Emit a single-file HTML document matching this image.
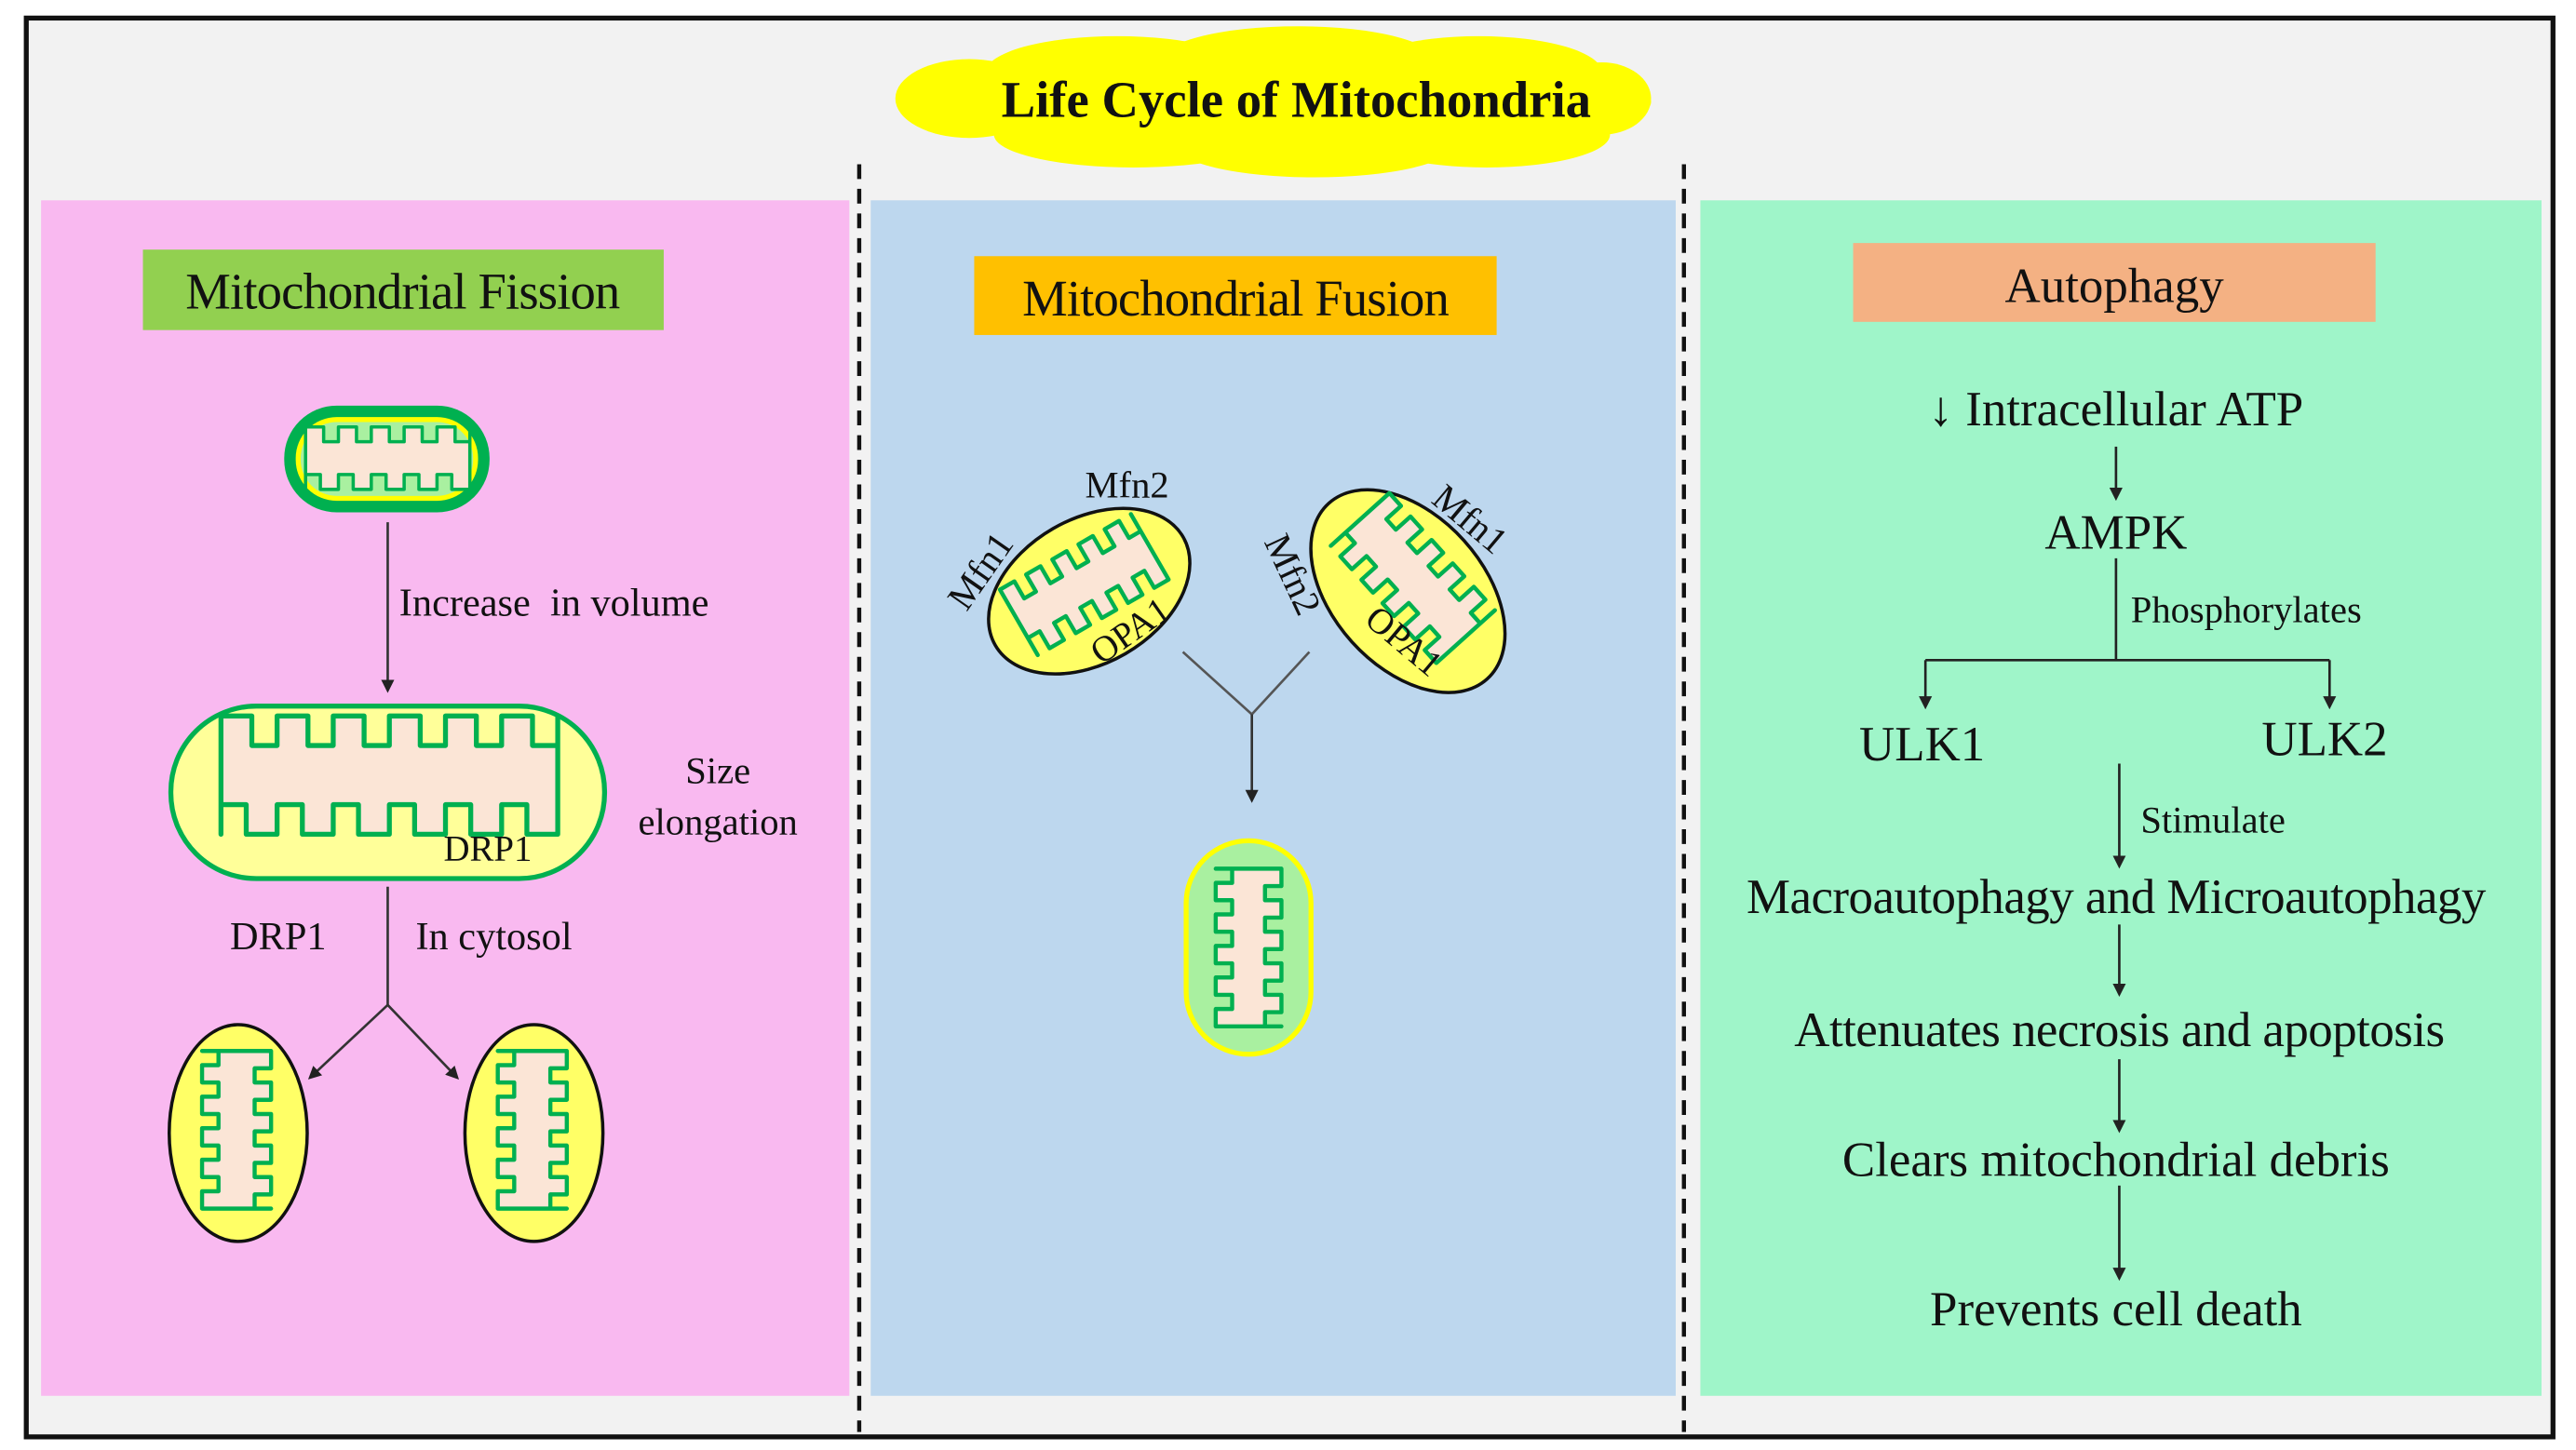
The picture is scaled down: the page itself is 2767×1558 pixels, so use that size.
<!DOCTYPE html>
<html><head><meta charset="utf-8"><style>
html,body{margin:0;padding:0;background:#fff;}
svg{display:block;}
text{font-family:"Liberation Serif",serif;fill:#111;}
</style></head><body>
<svg id="s" width="2767" height="1558" viewBox="0 0 1568 883" preserveAspectRatio="none" xmlns="http://www.w3.org/2000/svg">
<defs>
<marker id="ah" markerWidth="8" markerHeight="8" refX="6" refY="4" orient="auto" markerUnits="userSpaceOnUse"><path d="M0,0 L8,4 L0,8 z" fill="#222"/></marker>
</defs>
<rect x="0" y="0" width="1568" height="883" fill="#fff"/>
<rect x="16" y="11" width="1538" height="864" fill="#f2f2f2" stroke="#111" stroke-width="3"/>
<rect x="25" y="122" width="492" height="728" fill="#f9b9f0"/>
<rect x="530" y="122" width="490" height="728" fill="#bdd7ee"/>
<rect x="1035" y="122" width="512" height="728" fill="#9ff5c9"/>
<line x1="523" y1="100" x2="523" y2="872" stroke="#111" stroke-width="2.5" stroke-dasharray="9,6"/>
<line x1="1025" y1="100" x2="1025" y2="872" stroke="#111" stroke-width="2.5" stroke-dasharray="9,6"/>
<!-- cloud -->
<g fill="#ffff00">
<ellipse cx="780" cy="62" rx="225" ry="32"/>
<ellipse cx="590" cy="60" rx="45" ry="24"/>
<ellipse cx="680" cy="44" rx="80" ry="22"/>
<ellipse cx="790" cy="38" rx="85" ry="22"/>
<ellipse cx="900" cy="44" rx="75" ry="22"/>
<ellipse cx="975" cy="60" rx="30" ry="22"/>
<ellipse cx="690" cy="82" rx="85" ry="20"/>
<ellipse cx="800" cy="88" rx="85" ry="20"/>
<ellipse cx="905" cy="82" rx="75" ry="20"/>
</g>
<text x="789" y="71" text-anchor="middle" font-size="31" font-weight="bold">Life Cycle of Mitochondria</text>
<!-- headers -->
<rect x="87" y="152" width="317" height="49" fill="#92d050"/>
<text x="245" y="188" text-anchor="middle" font-size="31" letter-spacing="-0.5">Mitochondrial Fission</text>
<rect x="593" y="156" width="318" height="48" fill="#ffc000"/>
<text x="752" y="192" text-anchor="middle" font-size="31" letter-spacing="-0.5">Mitochondrial Fusion</text>
<rect x="1128" y="148" width="318" height="48" fill="#f4b183"/>
<text x="1287" y="184" text-anchor="middle" font-size="30">Autophagy</text>
<!-- fission -->
<rect x="173" y="247" width="125" height="65" rx="32" fill="#00b050"/>
<rect x="180" y="254" width="111" height="51" rx="25" fill="#ffff00"/>
<rect x="183" y="257" width="105" height="45" rx="22" fill="#a9f0a0"/>
<g id="c1"></g>
<line x1="236" y1="318" x2="236" y2="420" stroke="#333" stroke-width="1.5" marker-end="url(#ah)"/>
<text x="243" y="375" font-size="24" xml:space="preserve">Increase  in volume</text>
<rect x="104" y="430" width="264" height="105" rx="52" fill="#ffff99" stroke="#00b050" stroke-width="3"/>
<text x="270" y="524" font-size="22">DRP1</text>
<text x="437" y="477" text-anchor="middle" font-size="23">Size</text>
<text x="437" y="508" text-anchor="middle" font-size="23">elongation</text>
<line x1="236" y1="540" x2="236" y2="612" stroke="#333" stroke-width="1.5"/>
<line x1="236" y1="612" x2="189" y2="656" stroke="#333" stroke-width="1.5" marker-end="url(#ah)"/>
<line x1="236" y1="612" x2="278" y2="656" stroke="#333" stroke-width="1.5" marker-end="url(#ah)"/>
<text x="140" y="578" font-size="24">DRP1</text>
<text x="253" y="578" font-size="24">In cytosol</text>
<ellipse cx="145" cy="690" rx="42" ry="66" fill="#ffff66" stroke="#111" stroke-width="2"/>
<ellipse cx="325" cy="690" rx="42" ry="66" fill="#ffff66" stroke="#111" stroke-width="2"/>
<!-- fusion -->
<ellipse cx="663" cy="360" rx="66" ry="44" transform="rotate(-30 663 360)" fill="#ffff66" stroke="#111" stroke-width="2"/>
<ellipse cx="857" cy="360" rx="72" ry="46" transform="rotate(48 857 360)" fill="#ffff66" stroke="#111" stroke-width="2"/>
<text x="686" y="303" text-anchor="middle" font-size="23">Mfn2</text>
<text transform="translate(603,352) rotate(-55)" text-anchor="middle" font-size="23">Mfn1</text>
<text transform="translate(780,353) rotate(65)" text-anchor="middle" font-size="23">Mfn2</text>
<text transform="translate(890,322) rotate(40)" text-anchor="middle" font-size="23">Mfn1</text>
<line x1="720" y1="397" x2="762" y2="435" stroke="#555" stroke-width="1.5"/>
<line x1="797" y1="397" x2="762" y2="435" stroke="#555" stroke-width="1.5"/>
<line x1="762" y1="435" x2="762" y2="487" stroke="#333" stroke-width="1.5" marker-end="url(#ah)"/>
<rect x="722" y="512" width="76" height="130" rx="38" fill="#a9f0a0" stroke="#ffff00" stroke-width="3"/>
<g id="c2"></g>
<g id="top"></g>
<text transform="translate(692,390) rotate(-35)" text-anchor="middle" font-size="22">OPA1</text>
<text transform="translate(850,396) rotate(40)" text-anchor="middle" font-size="22">OPA1</text>
<!-- autophagy -->
<g font-size="30">
<text x="1288" y="259" text-anchor="middle">↓ Intracellular ATP</text>
<text x="1288" y="334" text-anchor="middle">AMPK</text>
<text x="1170" y="463" text-anchor="middle">ULK1</text>
<text x="1415" y="460" text-anchor="middle">ULK2</text>
<text x="1288" y="556" text-anchor="middle" letter-spacing="-0.3">Macroautophagy and Microautophagy</text>
<text x="1290" y="637" text-anchor="middle" letter-spacing="-0.3">Attenuates necrosis and apoptosis</text>
<text x="1288" y="716" text-anchor="middle">Clears mitochondrial debris</text>
<text x="1288" y="807" text-anchor="middle">Prevents cell death</text>
</g>
<text x="1297" y="379" font-size="23">Phosphorylates</text>
<text x="1303" y="507" font-size="23">Stimulate</text>
<g stroke="#222" stroke-width="1.5">
<line x1="1288" y1="272" x2="1288" y2="303" marker-end="url(#ah)"/>
<line x1="1288" y1="340" x2="1288" y2="402"/>
<line x1="1172" y1="402" x2="1418" y2="402"/>
<line x1="1172" y1="402" x2="1172" y2="430" marker-end="url(#ah)"/>
<line x1="1418" y1="402" x2="1418" y2="430" marker-end="url(#ah)"/>
<line x1="1290" y1="465" x2="1290" y2="527" marker-end="url(#ah)"/>
<line x1="1290" y1="563" x2="1290" y2="605" marker-end="url(#ah)"/>
<line x1="1290" y1="645" x2="1290" y2="688" marker-end="url(#ah)"/>
<line x1="1290" y1="722" x2="1290" y2="778" marker-end="url(#ah)"/>
</g>
</svg>
<script>
(function(){
var NS="http://www.w3.org/2000/svg";
function crista(parent,cx,cy,w,h,n,d,rot,sw){
  var x0=-w/2,x1=w/2,t=-h/2,b=h/2,p=(x1-x0)/n,tw=p*0.45;
  var s="M"+x0+","+t;
  for(var i=0;i<n;i++){var a=x0+i*p;
    s+=" L"+(a+p-tw)+","+t+" L"+(a+p-tw)+","+(t+d)+" L"+(a+p)+","+(t+d)+" L"+(a+p)+","+t;}
  s+=" L"+x1+","+b;
  for(var i=n-1;i>=0;i--){var a=x0+i*p;
    s+=" L"+(a+tw)+","+b+" L"+(a+tw)+","+(b-d)+" L"+a+","+(b-d)+" L"+a+","+b;}
  s+=" Z";
  var e=document.createElementNS(NS,"path");
  e.setAttribute("d",s);e.setAttribute("fill","#fbe5d6");e.setAttribute("stroke","#00b050");
  e.setAttribute("stroke-width",sw||2.5);e.setAttribute("stroke-linejoin","round");
  e.setAttribute("transform","translate("+cx+","+cy+") rotate("+rot+")");
  parent.appendChild(e);
}
var c1=document.getElementById("c1"),c2=document.getElementById("c2");
crista(c1,236,279,100,38,5,9,0,2);
crista(c2,237,472,205,72,6,18,0,3);
crista(c2,144,688,96,42,5,10,90,2.5);
crista(c2,324,688,96,42,5,10,90,2.5);
crista(c2,660,356,92,46,5,12,-30,2.5);
crista(c2,860,352,96,48,5,12,48,2.5);
crista(c2,760,577,96,40,5,10,90,2.5);
})();
</script>
</body></html>
